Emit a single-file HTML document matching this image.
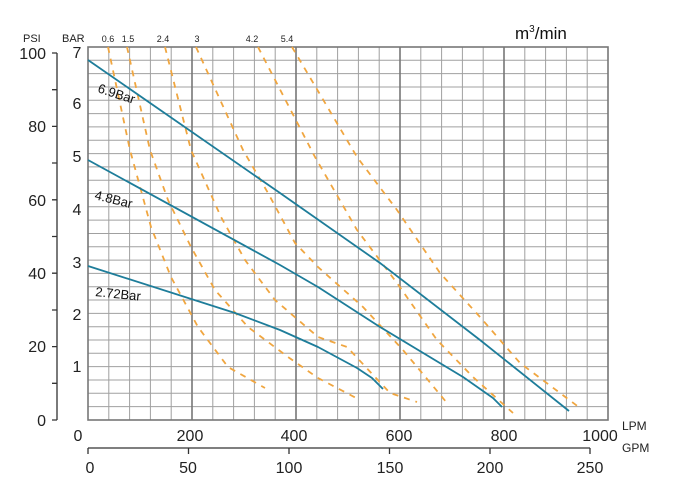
<!DOCTYPE html>
<html><head><meta charset="utf-8"><style>
html,body{margin:0;padding:0;background:#fff;}
svg{display:block;font-family:"Liberation Sans","DejaVu Sans",sans-serif;}
</style></head><body>
<svg width="674" height="491" viewBox="0 0 674 491" xmlns="http://www.w3.org/2000/svg">
<rect width="674" height="491" fill="#fff"/>
<g stroke="#a0a0a0" stroke-width="1">
<path d="M108.8,47V420M129.6,47V420M150.4,47V420M171.2,47V420M212.8,47V420M233.6,47V420M254.4,47V420M275.2,47V420M316.8,47V420M337.6,47V420M358.4,47V420M379.2,47V420M420.8,47V420M441.6,47V420M462.4,47V420M483.2,47V420M524.8,47V420M545.6,47V420M566.4,47V420M587.2,47V420"/>
<path d="M88,60.3H608M88,73.6H608M88,87H608M88,100.3H608M88,113.6H608M88,126.9H608M88,140.2H608M88,153.6H608M88,166.9H608M88,180.2H608M88,193.5H608M88,206.8H608M88,220.1H608M88,233.5H608M88,246.8H608M88,260.1H608M88,273.4H608M88,286.7H608M88,300H608M88,313.4H608M88,326.7H608M88,340H608M88,353.3H608M88,366.6H608M88,380H608M88,393.3H608M88,406.6H608"/>
</g>
<g stroke="#777" stroke-width="1.6" fill="none">
<path d="M192,47V420M296,47V420M400,47V420M504,47V420"/>
<rect x="88" y="47" width="520" height="373"/>
</g>
<g stroke="#f0a640" stroke-width="1.8" fill="none" stroke-dasharray="6,6" stroke-linejoin="round">
<path d="M108,47 L130,150 L151,227 L171,277 L198,327 L228,367 L265,388"/>
<path d="M127,47 L150,150 L168,200 L191,247 L215,290 L248,327 L288,357 L318,378 L360,400"/>
<path d="M165,47 L191,150 L221,217 L245,260 L275,300 L318,337 L347,347 L390,393 L417,402"/>
<path d="M196,47 L243,150 L268,193 L295,243 L318,267 L363,307 L403,350 L447,403"/>
<path d="M258,47 L315,157 L357,230 L397,283 L437,340 L473,377 L513,413"/>
<path d="M292,47 L357,157 L397,210 L440,273 L480,317 L520,363 L580,408"/>
</g>
<g stroke="#1e7d9a" stroke-width="1.8" fill="none" stroke-linejoin="round">
<path d="M88,60 L280,193 L380,263 L480,340 L569,411"/>
<path d="M88,160 L280,265 L318,287 L380,327 L463,377 L493,398 L502,407"/>
<path d="M88,266 L235,313 L280,330 L318,347 L357,368 L372,378 L383,389"/>
</g>
<g font-size="13" fill="#111">
<text transform="translate(97,92) rotate(18)">6.9Bar</text>
<text transform="translate(94,199) rotate(14)">4.8Bar</text>
<text transform="translate(95,296) rotate(6)">2.72Bar</text>
</g>
<g font-size="9" fill="#222" text-anchor="middle">
<text x="108" y="42">0.6</text><text x="128" y="42">1.5</text><text x="163" y="42">2.4</text>
<text x="197" y="42">3</text><text x="252" y="42">4.2</text><text x="287" y="42">5.4</text>
</g>
<text x="23" y="42" font-size="11" fill="#222">PSI</text>
<text x="62" y="42" font-size="11" fill="#222">BAR</text>
<text x="515" y="39" font-size="17" fill="#111">m<tspan font-size="10" dy="-7">3</tspan><tspan dy="7">/min</tspan></text>
<g stroke="#333" stroke-width="1.3">
<path d="M57,53V420M52,53H57M52,89.7H57M52,126.4H57M52,163H57M52,199.8H57M52,236.5H57M52,273.2H57M52,310H57M52,346.6H57M52,383.3H57M52,420H57"/>
</g>
<g font-size="16" fill="#222" text-anchor="end">
<text x="46" y="59">100</text><text x="46" y="132">80</text><text x="46" y="206">60</text>
<text x="46" y="279">40</text><text x="46" y="352">20</text><text x="46" y="426">0</text>
</g>
<g font-size="16" fill="#222" text-anchor="middle">
<text x="77" y="58">7</text><text x="77" y="109">6</text><text x="77" y="162">5</text>
<text x="77" y="215">4</text><text x="77" y="268">3</text><text x="77" y="320">2</text><text x="77" y="372">1</text>
</g>
<g font-size="16" fill="#222" text-anchor="middle">
<text x="78" y="441">0</text><text x="190" y="441">200</text><text x="294" y="441">400</text>
<text x="399" y="441">600</text><text x="504" y="441">800</text><text x="600" y="441">1000</text>
</g>
<text x="622" y="430" font-size="12" fill="#222">LPM</text>
<text x="622" y="452" font-size="12" fill="#222">GPM</text>
<g stroke="#333" stroke-width="1.3">
<path d="M88,448H590M88,448V454M188.5,448V454M289,448V454M389.5,448V454M490,448V454M590,448V454"/>
</g>
<g font-size="16" fill="#222" text-anchor="middle">
<text x="90" y="473">0</text><text x="188" y="473">50</text><text x="289" y="473">100</text>
<text x="390" y="473">150</text><text x="490" y="473">200</text><text x="590" y="473">250</text>
</g>
</svg>
</body></html>
